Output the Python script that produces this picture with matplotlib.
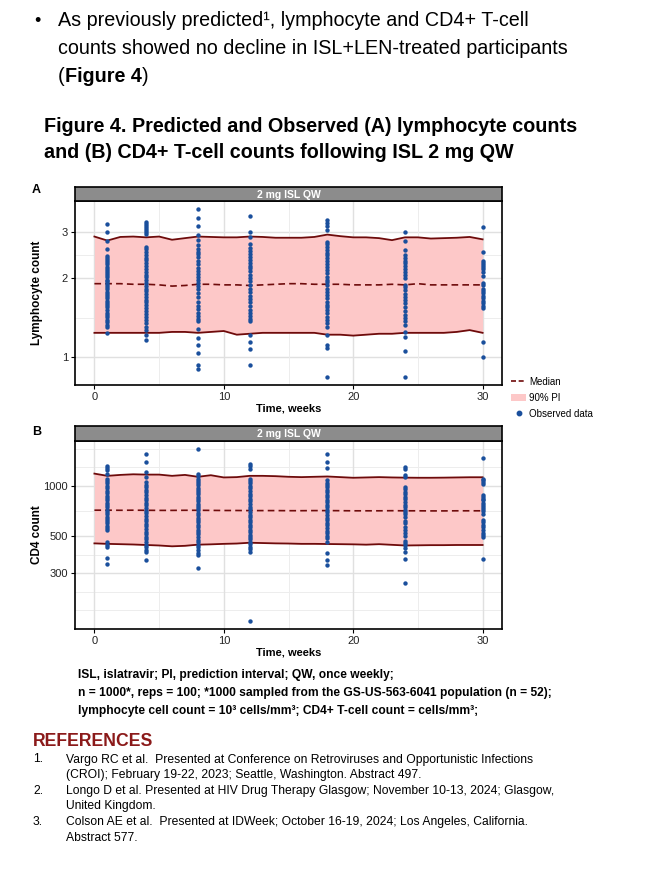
import numpy as np
import matplotlib
matplotlib.use("Agg")
import matplotlib.pyplot as plt
from matplotlib.lines import Line2D
from matplotlib.patches import Patch

plt.rcParams['font.family'] = ['Liberation Sans', 'DejaVu Sans']

W, H = 666, 882

weeks = [1, 4, 8, 12, 18, 24, 30]
band_weeks = list(range(31))

# panel A: lymphocyte count (10^3 cells/mm3)
lym_upper = [2.89, 2.79, 2.88, 2.89, 2.87, 2.89, 2.81, 2.85, 2.89, 2.88, 2.87, 2.87, 2.89, 2.88, 2.86, 2.86,
             2.86, 2.88, 2.94, 2.90, 2.87, 2.87, 2.85, 2.80, 2.87, 2.87, 2.84, 2.85, 2.86, 2.88, 2.82]
lym_lower = [1.24, 1.24, 1.24, 1.24, 1.24, 1.24, 1.25, 1.25, 1.24, 1.25, 1.26, 1.22, 1.23, 1.24, 1.24, 1.24,
             1.24, 1.24, 1.22, 1.22, 1.21, 1.22, 1.23, 1.23, 1.24, 1.24, 1.24, 1.24, 1.25, 1.27, 1.24]
lym_median = [1.91, 1.91, 1.91, 1.90, 1.90, 1.89, 1.87, 1.88, 1.90, 1.90, 1.89, 1.89, 1.88, 1.89, 1.90, 1.91,
              1.91, 1.90, 1.90, 1.90, 1.89, 1.89, 1.89, 1.90, 1.89, 1.91, 1.89, 1.89, 1.89, 1.89, 1.89]

lym_wk1 = [3.22, 3.00, 2.78, 2.60, 2.44, 2.40, 2.36, 2.31, 2.27, 2.22, 2.18, 2.14, 2.10, 2.06, 2.02, 1.98, 1.95,
           1.92, 1.89, 1.86, 1.82, 1.78, 1.75, 1.71, 1.68, 1.64, 1.61, 1.58, 1.55, 1.52, 1.48, 1.45, 1.42, 1.39,
           1.36, 1.33, 1.30, 1.24]
lym_wk4 = [3.28, 3.22, 3.17, 3.12, 3.06, 3.01, 2.96, 2.64, 2.58, 2.52, 2.46, 2.40, 2.35, 2.29, 2.24, 2.18, 2.12,
           2.07, 2.02, 1.97, 1.92, 1.87, 1.83, 1.79, 1.74, 1.70, 1.66, 1.62, 1.58, 1.54, 1.50, 1.46, 1.42, 1.39,
           1.35, 1.31, 1.27, 1.22, 1.16]
lym_wk8 = [3.68, 3.41, 3.18, 2.93, 2.80, 2.68, 2.60, 2.53, 2.47, 2.41, 2.33, 2.27, 2.20, 2.14, 2.08, 2.02, 1.97,
           1.92, 1.87, 1.82, 1.76, 1.70, 1.62, 1.57, 1.53, 1.48, 1.44, 1.40, 1.37, 1.28, 1.19, 1.11, 1.04, 0.935,
           0.90]
lym_wk12 = [3.46, 3.02, 2.87, 2.71, 2.62, 2.55, 2.48, 2.42, 2.36, 2.30, 2.24, 2.19, 2.13, 2.07, 2.01, 1.96, 1.89,
            1.83, 1.77, 1.72, 1.67, 1.62, 1.57, 1.52, 1.48, 1.44, 1.40, 1.37, 1.22, 1.14, 1.08, 0.935]
lym_wk18 = [3.34, 3.26, 3.18, 3.06, 2.76, 2.70, 2.63, 2.57, 2.51, 2.45, 2.39, 2.33, 2.27, 2.21, 2.15, 2.09, 2.03,
            1.98, 1.93, 1.88, 1.83, 1.78, 1.73, 1.68, 1.63, 1.59, 1.55, 1.51, 1.47, 1.43, 1.39, 1.35, 1.31, 1.22,
            1.11, 1.09, 0.84]
lym_wk24 = [3.00, 2.79, 2.57, 2.46, 2.40, 2.34, 2.29, 2.24, 2.18, 2.12, 2.06, 2.01, 1.89, 1.85, 1.80, 1.75, 1.70,
            1.65, 1.61, 1.55, 1.50, 1.45, 1.41, 1.37, 1.33, 1.25, 1.20, 1.06, 0.84]
lym_wk30 = [3.15, 2.53, 2.34, 2.30, 2.26, 2.22, 2.17, 2.12, 2.04, 1.92, 1.88, 1.83, 1.79, 1.76, 1.72, 1.68, 1.64,
            1.61, 1.57, 1.54, 1.14, 1.00]

# panel B: CD4 count (cells/mm3)
cd4_upper = [1186, 1150, 1165, 1175, 1170, 1170, 1150, 1165, 1135, 1160, 1125, 1130, 1150, 1150, 1145, 1135,
             1130, 1135, 1140, 1130, 1120, 1125, 1130, 1125, 1122, 1120, 1120, 1122, 1125, 1128, 1128]
cd4_lower = [453, 450, 448, 446, 443, 440, 435, 438, 445, 447, 450, 452, 457, 455, 453, 452,
             450, 450, 449, 448, 447, 445, 448, 444, 440, 441, 442, 442, 443, 443, 443]
cd4_median = [716, 716, 715, 716, 715, 714, 714, 715, 715, 714, 713, 713, 712, 712, 712, 711,
              711, 712, 712, 711, 710, 710, 710, 711, 710, 710, 709, 709, 710, 710, 710]

cd4_wk1 = [1311, 1275, 1240, 1186, 1107, 1070, 1035, 1000, 968, 937, 905, 876, 850, 822, 796, 770, 746, 722, 700,
           678, 656, 635, 615, 596, 578, 560, 544, 463, 445, 429, 368, 339]
cd4_wk4 = [1561, 1391, 1213, 1132, 1056, 1020, 985, 950, 915, 883, 852, 822, 793, 765, 738, 712, 687, 662, 638,
           615, 593, 572, 552, 532, 513, 495, 478, 461, 445, 430, 416, 404, 360]
cd4_wk8 = [1656, 1175, 1140, 1105, 1072, 1040, 1008, 977, 947, 918, 890, 862, 835, 809, 784, 760, 736, 713, 690,
           668, 647, 626, 606, 586, 567, 548, 530, 512, 494, 477, 460, 444, 428, 413, 398, 385, 324]
cd4_wk12 = [1361, 1310, 1270, 1107, 1070, 1035, 1000, 966, 933, 900, 868, 838, 808, 780, 752, 725, 699, 674, 650,
            627, 605, 584, 564, 545, 527, 510, 494, 478, 462, 447, 432, 418, 404, 156]
cd4_wk18 = [1561, 1391, 1288, 1082, 1048, 1015, 982, 950, 918, 888, 858, 829, 800, 773, 746, 720, 695, 670, 646,
            623, 601, 580, 560, 540, 521, 503, 485, 463, 395, 360, 336]
cd4_wk24 = [1298, 1270, 1160, 1135, 986, 955, 925, 900, 860, 830, 800, 770, 745, 720, 700, 680, 655, 620, 600,
            570, 545, 525, 500, 470, 455, 440, 425, 404, 364, 262]
cd4_wk30 = [1479, 1100, 1082, 1060, 1033, 880, 860, 840, 822, 790, 767, 745, 725, 705, 684, 624, 605, 585, 565,
            545, 525, 510, 496, 364]

lym_obs = [lym_wk1, lym_wk4, lym_wk8, lym_wk12, lym_wk18, lym_wk24, lym_wk30]
cd4_obs = [cd4_wk1, cd4_wk4, cd4_wk8, cd4_wk12, cd4_wk18, cd4_wk24, cd4_wk30]

PINK = "#FDC8C8"
DARKRED = "#6E0B0B"
BLUE = "#1A4F9C"
NARROW = ["Liberation Sans Narrow", "Liberation Sans"]


def box(left, top, right, bottom):
    # pixel box -> figure fraction rect
    return [left / W, 1 - bottom / H, (right - left) / W, (bottom - top) / H]


def fy(y):
    return 1 - y / H


def fx(x):
    return x / W


def minor_log(breaks, lo, hi):
    # ggplot-style minor breaks: midpoints in log space, extended one step each side
    b = list(np.log10(breaks))
    d = b[1] - b[0]
    b = [b[0] - d] + b + [b[-1] + d]
    mids = [(b[i] + b[i + 1]) / 2 for i in range(len(b) - 1)]
    return [10 ** m for m in mids if np.log10(lo) < m < np.log10(hi)] + \
           [10 ** v for v in (b[0], b[-1]) if np.log10(lo) < v < np.log10(hi)]


def panel(rect, strip_rect, upper, lower, median, obs, yticks, ylim, ylabel):
    ax = fig.add_axes(rect)
    ax.set_yscale("log")
    ax.set_xlim(-1.5, 31.5)
    ax.set_ylim(*ylim)
    for v in minor_log(yticks, *ylim):
        ax.axhline(v, color="#EDEDED", lw=0.7, zorder=0)
    for v in yticks:
        ax.axhline(v, color="#E0E0E0", lw=1.0, zorder=0)
    for v in [5, 15, 25]:
        ax.axvline(v, color="#EDEDED", lw=0.7, zorder=0)
    for v in [0, 10, 20, 30]:
        ax.axvline(v, color="#E0E0E0", lw=1.0, zorder=0)
    ax.fill_between(band_weeks, lower, upper, color=PINK, lw=0, zorder=1)
    ax.plot(band_weeks, upper, color=DARKRED, lw=1.3, zorder=2)
    ax.plot(band_weeks, lower, color=DARKRED, lw=1.3, zorder=2)
    ax.plot(band_weeks, median, color=DARKRED, lw=1.2, ls=(0, (4, 2.5)), zorder=2)
    for wk, vals in zip(weeks, obs):
        ax.scatter([wk] * len(vals), vals, s=10, color=BLUE, lw=0, zorder=3)
    ax.set_yticks(yticks)
    ax.set_yticklabels([str(v) for v in yticks])
    ax.yaxis.set_minor_locator(matplotlib.ticker.NullLocator())
    ax.set_xticks([0, 10, 20, 30])
    ax.tick_params(labelsize=8, length=3, width=0.8, color="black", labelcolor="#222222", pad=2)
    for s in ax.spines.values():
        s.set_linewidth(1.2)
        s.set_color("black")
    ax.set_xlabel("Time, weeks", fontsize=8, fontweight="bold", labelpad=1)
    ax.set_ylabel(ylabel, fontsize=8.5, fontweight="bold")
    ax.yaxis.set_label_coords((43 - 75) / 427, 0.5)

    st = fig.add_axes(strip_rect)
    st.set_facecolor("#8C8C8C")
    st.set_xticks([])
    st.set_yticks([])
    for s in st.spines.values():
        s.set_linewidth(1.2)
        s.set_color("black")
    st.text(0.5, 0.45, "2 mg ISL QW", color="white", fontsize=7.5, fontweight="bold",
            ha="center", va="center", transform=st.transAxes)
    return ax


fig = plt.figure(figsize=(W / 100, H / 100), dpi=100)

# bullet text
fig.text(fx(34), fy(21), "\u2022", fontsize=13, va="center")
fig.text(fx(58), fy(21), "As previously predicted\u00b9, lymphocyte and CD4+ T-cell", fontsize=14.2, va="center")
fig.text(fx(58), fy(49), "counts showed no decline in ISL+LEN-treated participants", fontsize=14.2, va="center")
fig.canvas.draw()
r = fig.canvas.get_renderer()
t1 = fig.text(fx(58), fy(77), "(", fontsize=14.2, va="center")
x1 = t1.get_window_extent(r).x1
t2 = fig.text(x1 / W, fy(77), "Figure 4", fontsize=14.2, fontweight="bold", va="center")
x2 = t2.get_window_extent(r).x1
fig.text(x2 / W, fy(77), ")", fontsize=14.2, va="center")

fig.text(fx(44), fy(126), "Figure 4. Predicted and Observed (A) lymphocyte counts", fontsize=14.2,
         fontweight="bold", va="center")
fig.text(fx(44), fy(152), "and (B) CD4+ T-cell counts following ISL 2 mg QW", fontsize=14.2,
         fontweight="bold", va="center")

ax_a = panel(box(75, 201, 502, 385), box(75, 187, 502, 201), lym_upper, lym_lower, lym_median, lym_obs,
             [1, 2, 3], (0.784, 3.95), "Lymphocyte count")
ax_b = panel(box(75, 441, 502, 629), box(75, 426, 502, 441), cd4_upper, cd4_lower, cd4_median, cd4_obs,
             [300, 500, 1000], (139, 1860), "CD4 count")

fig.text(fx(32), fy(190), "A", fontsize=9, fontweight="bold", va="center")
fig.text(fx(32), fy(432), "B", fontsize=9, fontweight="bold", va="center")

handles = [Line2D([], [], color=DARKRED, lw=1.2, ls=(0, (3, 1.6))),
           Patch(facecolor=PINK, edgecolor="none"),
           Line2D([], [], color=BLUE, marker="o", ls="none", markersize=3.2)]
fig.legend(handles, ["Median", "90% PI", "Observed data"], loc="upper left",
           bbox_to_anchor=(fx(506), fy(372)), frameon=False, fontsize=7, handlelength=1.6,
           handletextpad=0.3, labelspacing=0.6, borderpad=0)

# footnote
foot = ["ISL, islatravir; PI, prediction interval; QW, once weekly;",
        "n = 1000*, reps = 100; *1000 sampled from the GS-US-563-6041 population (n = 52);",
        "lymphocyte cell count = 10\u00b3 cells/mm\u00b3; CD4+ T-cell count = cells/mm\u00b3;"]
for i, line in enumerate(foot):
    fig.text(fx(78), fy(675 + 18 * i), line, fontsize=8.65, fontweight="bold", va="center", family=NARROW)

fig.text(fx(33), fy(742), "REFERENCES", fontsize=12.7, fontweight="bold", color="#8B1A1A", va="center",
         family=NARROW)
refs = [("1.", ["Vargo RC et al.  Presented at Conference on Retroviruses and Opportunistic Infections",
                "(CROI); February 19-22, 2023; Seattle, Washington. Abstract 497."]),
        ("2.", ["Longo D et al. Presented at HIV Drug Therapy Glasgow; November 10-13, 2024; Glasgow,",
                "United Kingdom."]),
        ("3.", ["Colson AE et al.  Presented at IDWeek; October 16-19, 2024; Los Angeles, California.",
                "Abstract 577."])]
y = 759.5
for num, lines in refs:
    fig.text(fx(33), fy(y), num, fontsize=8.75, va="center", family=NARROW)
    for ln in lines:
        fig.text(fx(66), fy(y), ln, fontsize=8.75, va="center", family=NARROW)
        y += 15.6

fig.savefig("out.png", dpi=100)
